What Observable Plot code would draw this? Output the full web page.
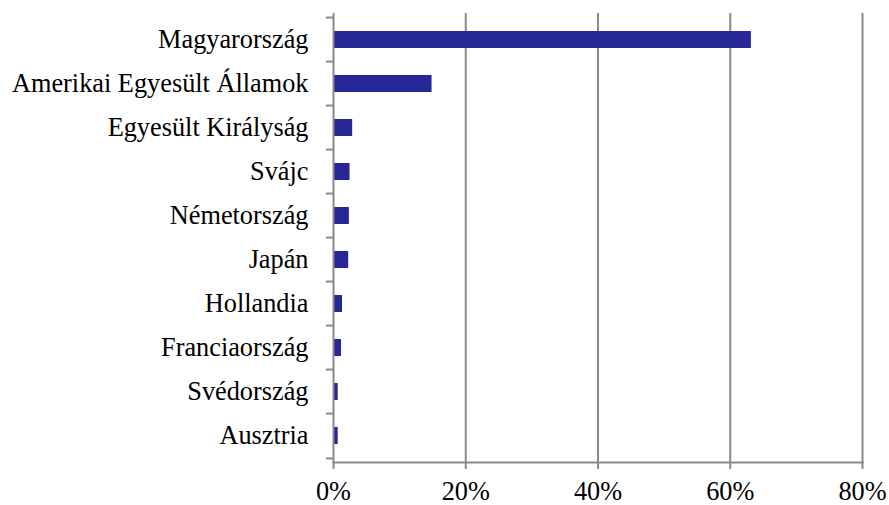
<!DOCTYPE html>
<html>
<head>
<meta charset="utf-8">
<script src="https://cdn.jsdelivr.net/npm/d3@7"></script>
<script src="https://cdn.jsdelivr.net/npm/@observablehq/plot@0.6"></script>
<style>
  body { margin: 0; background: #fff; }
</style>
</head>
<body>
<div id="chart"></div>
<script>
const countries = ["Magyarország", "Amerikai Egyesült Államok", "Egyesült Királyság", "Svájc", "Németország", "Japán", "Hollandia", "Franciaország", "Svédország", "Ausztria"];
const shares = [0.632, 0.149, 0.029, 0.025, 0.024, 0.023, 0.0136, 0.0121, 0.0071, 0.0071];
const xTicks = [0, 0.2, 0.4, 0.6, 0.8];

const data = countries.map((c, i) => ({country: c, share: shares[i]}));
const W = 889, H = 505, mT = 13, mB = 43;
const step = (H - mT - mB) / countries.length;
const gray = "#8a8a8a";
const FONT = "Liberation Serif, Times New Roman, serif";
const FS = 26.3;

const chart = Plot.plot({
  width: W,
  height: H,
  marginLeft: 333,
  marginRight: 27,
  marginTop: mT,
  marginBottom: mB,
  style: {background: "#fff", color: "#000", fontSize: FS + "px", fontFamily: FONT},
  x: {domain: [0, 0.8], ticks: xTicks, tickFormat: d3.format(".0%")},
  y: {domain: countries, paddingInner: 0.62, paddingOuter: 0.31, label: null},
  marks: [
    Plot.gridX(xTicks.slice(1), {stroke: gray, strokeOpacity: 1, strokeWidth: 2}),
    Plot.barX(data, {x: "share", y: "country", fill: "#272795"}),
    Plot.ruleX([0], {stroke: gray, strokeWidth: 2}),
    Plot.frame({anchor: "bottom", stroke: gray, strokeWidth: 2}),
    Plot.axisX({ticks: xTicks, tickFormat: d3.format(".0%"), tickSize: 7, tickPadding: 12, stroke: gray, strokeWidth: 2, label: null, fill: "#000", fontFamily: FONT, fontSize: FS}),
    Plot.axisY({tickSize: 0, tickPadding: 25, label: null, fill: "#000", fontFamily: FONT, fontSize: FS}),
    Plot.axisY({tickSize: 7, dy: -step / 2, text: null, stroke: gray, strokeWidth: 2, label: null}),
    Plot.axisY({ticks: [countries[countries.length - 1]], tickSize: 7, dy: step / 2, text: null, stroke: gray, strokeWidth: 2, label: null})
  ]
});
document.getElementById("chart").appendChild(chart);
</script>
</body>
</html>
